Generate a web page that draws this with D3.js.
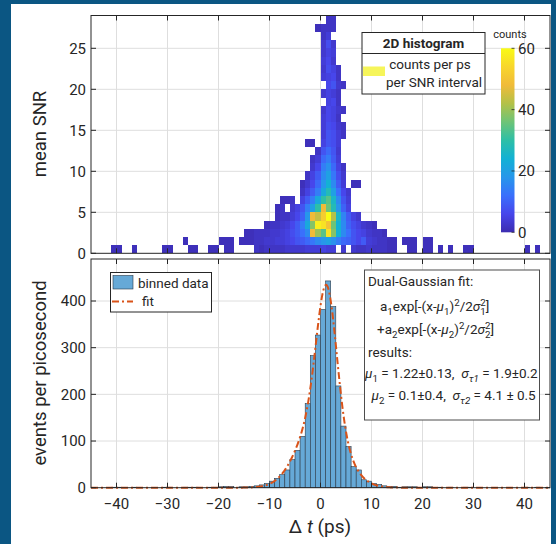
<!DOCTYPE html>
<html>
<head>
<meta charset="utf-8">
<script src="https://cdn.jsdelivr.net/npm/d3@7"></script>
<style>
  body { margin: 0; background: #fff; }
  svg { display: block; }
  text { font-family: Roboto, "Noto Sans", "DejaVu Sans", sans-serif; fill: #262626; white-space: pre; }
</style>
</head>
<body>
<svg id="chart" width="556" height="544"></svg>
<script>
// ---- axis ticks ----
const dtTicks = [-40, -30, -20, -10, 0, 10, 20, 30, 40];
const snrTicks = [0, 5, 10, 15, 20, 25];
const eventTicks = [0, 100, 200, 300, 400];
const countTicks = [0, 20, 40, 60];

// ---- 2D histogram: [SNR bin, first Δt bin (ps), counts per 1 ps bin...] ----
const hist2dRows = [
  [0, -41, [1,1,0,0,1,0,0,0,0,0, 1,1,0,0,0,1,1,0,0,1, 1,0,1,1,0,0,0,0,2,1,
            2,2,2,2,3,3,3,3,4,4, 4,5,4,4,0,3,0,3,2,2, 3,2,2,2,1,1,0,0,1,1,
            0,1,1,0,1,0,1,0,0,1, 1,0,0,0,0,0,0,0,0,0, 0,1,0,1]],
  [1, -27, [1,0,0,0,0,0,0,1,1,1, 0,1,1,1,2,2,3,3,4,4, 5,6,8,9,11,13,16,18,20,17,
            14,11,10,8,6,9,4,3,2,2, 1,1,0,1,1,1,0,1,1]],
  [2, -15, [1,1,2,2,2,3,3,4,5,7, 9,12,16,48,40,34,56,38,24,16, 12,8,6,5,3,2,2,1]],
  [3, -11, [1,2,2,3,4,6,9,14,22,38, 58,56,50,36,24,16,10,7,5,3, 2,1]],
  [4, -9,  [1,2,2,4,6,10,18,48,44,52, 60,42,26,15,9,5,3]],
  [5, -9,  [1,2,0,3,5,8,14,20,30,48, 36,28,18,10,5]],
  [6, -8,  [1,1,2,0,5,9,14,22,30,34, 26,16,8,4]],
  [7, -4,  [2,5,9,14,22,28,20,12,6,3]],
  [8, -4,  [1,3,6,11,18,24,16,9,4,0,1,1]],
  [9, -3,  [2,5,9,16,20,13,7,3]],
  [10, -2, [3,6,14,17,11,5,2]],
  [11, -2, [2,4,11,14,9,4]],
  [12, -1, [2,8,11,8,3]],
  [13, -3, [1,1,0,5,8,7,4]],
  [14, 0,  [4,8,7,4,2]],
  [15, 0,  [4,7,6,3,2]],
  [16, 0,  [4,6,5,2]],
  [17, 0,  [3,6,5,3,2]],
  [18, 1,  [5,6,2]],
  [19, 0,  [3,5,4,2]],
  [20, 1,  [6,8,3,2]],
  [21, 0,  [4,5,6,2]],
  [22, 0,  [3,7,5,2]],
  [23, 0,  [4,6,3]],
  [24, 0,  [3,5,4]],
  [25, 0,  [3,7,3]],
  [26, 0,  [2,4]],
  [27, -1, [1,2,2,2]],
  [28, 1,  [2,2]]
];

// ---- 1D histogram: left edge of each 1 ps bin and its event count ----
const binDt = [-41,-40,-37,-31,-30,-27,-26,-25,-22,-21,-20,-19,-18,-16,-15,-14,-13,-12,-11,-10,
               -9,-8,-7,-6,-5,-4,-3,-2,-1,0,1,2,3,4,5,6,7,8,9,10,
               11,12,13,14,15,16,17,18,20,21,23,25,28,29,40,42];
const binCounts = [1,1,1,1,1,1,1,1,1,1,2,3,3,2,2,3,4,6,9,14,
                   20,28,38,60,80,110,180,283,327,382,443,388,218,132,88,45,38,17,14,9,
                   7,4,3,3,1,2,2,2,2,2,1,1,1,1,1,1];

// ---- dual-Gaussian fit parameters ----
const fitAmp = [271, 169];
const fitMu = [1.22, 0.1];
const fitSigma = [1.9, 4.1];

// ---- parula colour stops ----
const parulaStops = ["#3c2cb0", "#4746eb", "#3a70fc", "#2797ea", "#13b1d4", "#2ebfa6",
                     "#6ec477", "#b3c148", "#f0bb39", "#f8d62c", "#f9fb15"];

const W = 556, H = 544;
const svg = d3.select("#chart");
const ink = "#262626";
const tickSize = 15;

// page background and white card
svg.append("rect").attr("width", W).attr("height", H).attr("fill", "#0b5683");
svg.append("rect").attr("x", 11).attr("y", 4).attr("width", 540).attr("height", 540).attr("fill", "#fff");

const x = d3.scaleLinear().domain([-45, 45]).range([91, 550]);
const ySnr = d3.scaleLinear().domain([0, 29]).range([253.3, 15.5]);
const yEv = d3.scaleLinear().domain([0, 490]).range([487.7, 259]);
const color = d3.scaleLinear()
  .domain(d3.range(parulaStops.length).map(i => 60 * i / (parulaStops.length - 1)))
  .range(parulaStops).clamp(true);

function grid(g, yScale, yTicks) {
  const [y0, y1] = yScale.range();
  g.append("g").selectAll("line").data(dtTicks).join("line")
    .attr("x1", d => x(d)).attr("x2", d => x(d)).attr("y1", y0).attr("y2", y1)
    .attr("stroke", "#dedede").attr("stroke-width", 1);
  g.append("g").selectAll("line").data(yTicks.filter(d => d > 0)).join("line")
    .attr("x1", 91).attr("x2", 550).attr("y1", d => yScale(d)).attr("y2", d => yScale(d))
    .attr("stroke", "#dedede").attr("stroke-width", 1);
}

function frame(g, yScale, yTicks) {
  const [yb, yt] = yScale.range();
  const tl = 5;
  g.append("rect").attr("x", 91).attr("y", yt).attr("width", 459).attr("height", yb - yt)
    .attr("fill", "none").attr("stroke", ink).attr("stroke-width", 1);
  dtTicks.forEach(d => {
    g.append("line").attr("x1", x(d)).attr("x2", x(d)).attr("y1", yt).attr("y2", yt + tl).attr("stroke", ink);
    g.append("line").attr("x1", x(d)).attr("x2", x(d)).attr("y1", yb).attr("y2", yb - tl).attr("stroke", ink);
  });
  yTicks.forEach(d => {
    g.append("line").attr("x1", 91).attr("x2", 91 + tl).attr("y1", yScale(d)).attr("y2", yScale(d)).attr("stroke", ink);
    g.append("line").attr("x1", 550).attr("x2", 550 - tl).attr("y1", yScale(d)).attr("y2", yScale(d)).attr("stroke", ink);
  });
  g.append("g").selectAll("text").data(yTicks).join("text")
    .attr("x", 86).attr("y", d => yScale(d)).attr("dy", "0.36em")
    .attr("text-anchor", "end").attr("font-size", tickSize).text(d => d);
}

// ================= upper panel: 2D histogram =================
const upper = svg.append("g");
grid(upper, ySnr, snrTicks);

const cells = [];
hist2dRows.forEach(([snr, start, vals]) => {
  vals.forEach((c, i) => { if (c > 0) cells.push({ snr, dt: start + i, c }); });
});
upper.append("g").attr("shape-rendering", "crispEdges")
  .selectAll("rect").data(cells).join("rect")
  .attr("x", d => x(d.dt)).attr("width", d => x(d.dt + 1) - x(d.dt))
  .attr("y", d => ySnr(d.snr + 1)).attr("height", d => ySnr(d.snr) - ySnr(d.snr + 1))
  .attr("fill", d => color(d.c));

frame(upper, ySnr, snrTicks);

upper.append("text").attr("transform", "translate(40,134) rotate(-90)")
  .attr("text-anchor", "middle").attr("dy", "0.35em").attr("font-size", 18.5).text("mean SNR");

// legend box
const lg = upper.append("g");
lg.append("rect").attr("x", 362).attr("y", 32.5).attr("width", 123).attr("height", 61.5)
  .attr("fill", "#fff").attr("stroke", ink).attr("stroke-width", 1);
lg.append("line").attr("x1", 362).attr("x2", 485).attr("y1", 53.5).attr("y2", 53.5).attr("stroke", ink);
lg.append("text").attr("x", 423.5).attr("y", 47.5).attr("text-anchor", "middle")
  .attr("font-size", 13.5).attr("font-weight", "bold").text("2D histogram");
lg.append("rect").attr("x", 363).attr("y", 66.5).attr("width", 22).attr("height", 9.5).attr("fill", "#f6f55a");
lg.append("text").attr("x", 430).attr("y", 69).attr("text-anchor", "middle").attr("font-size", 13.5).text("counts per ps");
lg.append("text").attr("x", 434).attr("y", 87).attr("text-anchor", "middle").attr("font-size", 13.5).text("per SNR interval");

// colour bar
const yC = d3.scaleLinear().domain([0, 60]).range([232.3, 48.3]);
const defs = svg.append("defs");
const grad = defs.append("linearGradient").attr("id", "parula")
  .attr("x1", 0).attr("y1", 1).attr("x2", 0).attr("y2", 0);
parulaStops.forEach((c, i) => grad.append("stop").attr("offset", i / (parulaStops.length - 1)).attr("stop-color", c));
upper.append("rect").attr("x", 501).attr("y", yC(60)).attr("width", 13.5).attr("height", yC(0) - yC(60))
  .attr("fill", "url(#parula)");
countTicks.forEach(d => {
  upper.append("line").attr("x1", 514.5).attr("x2", 511.5).attr("y1", yC(d)).attr("y2", yC(d)).attr("stroke", ink).attr("stroke-width", 0.8);
});
upper.append("g").selectAll("text").data(countTicks).join("text")
  .attr("x", 518).attr("y", d => yC(d)).attr("dy", "0.36em").attr("font-size", tickSize).text(d => d);
upper.append("text").attr("x", 510).attr("y", 38).attr("text-anchor", "middle").attr("font-size", 11).text("counts");

// ================= lower panel: 1D histogram + fit =================
const lower = svg.append("g");
grid(lower, yEv, eventTicks);

const barFill = "#66a9d7";
lower.append("g").selectAll("rect").data(binDt.map((d, i) => ({ dt: d, c: binCounts[i] }))).join("rect")
  .attr("x", d => x(d.dt)).attr("width", d => x(d.dt + 1) - x(d.dt))
  .attr("y", d => yEv(d.c)).attr("height", d => yEv(0) - yEv(d.c))
  .attr("fill", barFill).attr("stroke", "#2b3a48").attr("stroke-width", 0.6);

// fit curve evaluated from the fitted parameters
const fitX = d3.range(-45, 45.001, 0.1);
const fitY = t => fitAmp[0] * Math.exp(-((t - fitMu[0]) ** 2) / (2 * fitSigma[0] ** 2))
               + fitAmp[1] * Math.exp(-((t - fitMu[1]) ** 2) / (2 * fitSigma[1] ** 2));
lower.append("path").datum(fitX)
  .attr("d", d3.line().x(t => x(t)).y(t => yEv(fitY(t))))
  .attr("fill", "none").attr("stroke", "#d95319").attr("stroke-width", 2)
  .attr("stroke-dasharray", "7,3,2,3");

frame(lower, yEv, eventTicks);

lower.append("g").selectAll("text").data(dtTicks).join("text")
  .attr("x", d => x(d)).attr("y", 508.5).attr("text-anchor", "middle").attr("font-size", tickSize)
  .text(d => d3.format("")(d));

const xt = lower.append("text").attr("x", 320).attr("y", 533).attr("text-anchor", "middle").attr("font-size", 19);
xt.append("tspan").text("Δ ");
xt.append("tspan").attr("font-style", "italic").text("t");
xt.append("tspan").text(" (ps)");

lower.append("text").attr("transform", "translate(40,373) rotate(-90)")
  .attr("text-anchor", "middle").attr("dy", "0.35em").attr("font-size", 18.5).text("events per picosecond");

// legend
const l2 = lower.append("g");
l2.append("rect").attr("x", 110.5).attr("y", 272.5).attr("width", 101).attr("height", 39.5)
  .attr("fill", "#fff").attr("stroke", ink);
l2.append("rect").attr("x", 113).attr("y", 275.5).attr("width", 20).attr("height", 13.5)
  .attr("fill", barFill).attr("stroke", "#2b3a48").attr("stroke-width", 0.6);
l2.append("text").attr("x", 138).attr("y", 287.5).attr("font-size", 13.5).text("binned data");
l2.append("line").attr("x1", 112).attr("x2", 133).attr("y1", 301.5).attr("y2", 301.5)
  .attr("stroke", "#d95319").attr("stroke-width", 2).attr("stroke-dasharray", "7,3,2,3");
l2.append("text").attr("x", 142).attr("y", 306).attr("font-size", 13.5).text("fit");

// fit result box
const fb = lower.append("g");
fb.append("rect").attr("x", 364.5).attr("y", 270).attr("width", 175).attr("height", 150)
  .attr("fill", "#fff").attr("stroke", "#4d4d4d").attr("stroke-width", 1);

function rich(g, x0, y0, parts, size) {
  const t = g.append("text").attr("x", x0).attr("y", y0).attr("font-size", size);
  let shift = 0;
  parts.forEach(p => {
    const [str, kind, ital, dx] = p;
    const target = kind === "sub" ? size * 0.32 : kind === "sup" ? -size * 0.4 : 0;
    const ts = t.append("tspan").attr("dy", target - shift).text(str);
    if (kind) ts.attr("font-size", size * 0.72);
    if (ital) ts.attr("font-style", "italic");
    if (dx) ts.attr("dx", dx);
    shift = target;
  });
  return t;
}
const fs = 13.5;
rich(fb, 368, 286, [["Dual-Gaussian fit:"]], fs);
rich(fb, 380, 311, [["a"], ["1", "sub"], ["exp[-(x-"], ["μ", null, true], ["1", "sub"], [")"], ["2", "sup"],
  ["/2"], ["σ", null, true], ["1", "sub"], ["2", "sup", false, -5.4], ["]"]], fs);
rich(fb, 377, 334, [["+a"], ["2", "sub"], ["exp[-(x-"], ["μ", null, true], ["2", "sub"], [")"], ["2", "sup"],
  ["/2"], ["σ", null, true], ["2", "sub"], ["2", "sup", false, -5.4], ["]"]], fs);
rich(fb, 368, 357, [["results:"]], fs);
rich(fb, 365, 378, [["μ", null, true], ["1", "sub"], [" = " + fitMu[0].toFixed(2) + "±0.13,\u00a0\u00a0"], ["σ", null, true],
  ["τ1", "sub", true], [" = " + fitSigma[0].toFixed(1) + "±0.2"]], fs);
rich(fb, 371.5, 400, [["μ", null, true], ["2", "sub"], [" = " + fitMu[1].toFixed(1) + "±0.4,\u00a0\u00a0"], ["σ", null, true],
  ["τ2", "sub", true], [" = " + fitSigma[1].toFixed(1) + " ± 0.5"]], fs);
</script>
</body>
</html>
